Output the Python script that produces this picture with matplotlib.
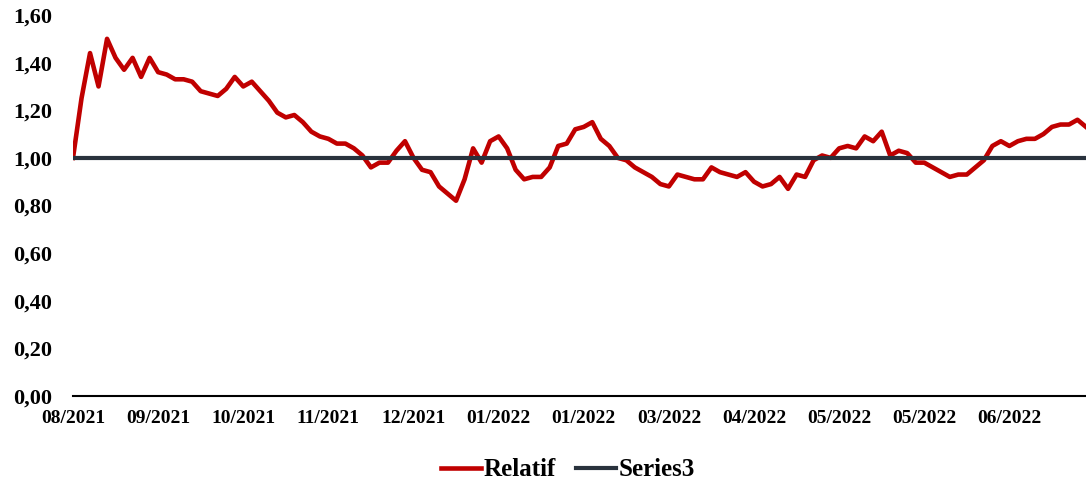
import numpy as np
import matplotlib
matplotlib.use('Agg')
from matplotlib import pyplot as plt
from matplotlib.ticker import FuncFormatter, MultipleLocator

plt.rcParams['font.family'] = ['Liberation Serif', 'DejaVu Serif']
plt.rcParams['font.weight'] = 'bold'

# ----------------------------------
# data (one point every half month or so)
relatif = [
    1.00, 1.25, 1.44, 1.30, 1.50, 1.42, 1.37, 1.42, 1.34, 1.42,
    1.36, 1.35, 1.33, 1.33, 1.32, 1.28, 1.27, 1.26, 1.29, 1.34,
    1.30, 1.32, 1.28, 1.24, 1.19, 1.17, 1.18, 1.15, 1.11, 1.09,
    1.08, 1.06, 1.06, 1.04, 1.01, 0.96, 0.98, 0.98, 1.03, 1.07,
    1.00, 0.95, 0.94, 0.88, 0.85, 0.82, 0.91, 1.04, 0.98, 1.07,
    1.09, 1.04, 0.95, 0.91, 0.92, 0.92, 0.96, 1.05, 1.06, 1.12,
    1.13, 1.15, 1.08, 1.05, 1.00, 0.99, 0.96, 0.94, 0.92, 0.89,
    0.88, 0.93, 0.92, 0.91, 0.91, 0.96, 0.94, 0.93, 0.92, 0.94,
    0.90, 0.88, 0.89, 0.92, 0.87, 0.93, 0.92, 0.99, 1.01, 1.00,
    1.04, 1.05, 1.04, 1.09, 1.07, 1.11, 1.01, 1.03, 1.02, 0.98,
    0.98, 0.96, 0.94, 0.92, 0.93, 0.93, 0.96, 0.99, 1.05, 1.07,
    1.05, 1.07, 1.08, 1.08, 1.10, 1.13, 1.14, 1.14, 1.16, 1.13,
]
series3 = [1.0] * len(relatif)
month_labels = ['08/2021', '09/2021', '10/2021', '11/2021', '12/2021', '01/2022',
                '01/2022', '03/2022', '04/2022', '05/2022', '05/2022', '06/2022']

x = np.arange(len(relatif))

fig = plt.figure(figsize=(10.86, 4.88), dpi=100)
ax = fig.add_axes([73 / 1086, 92 / 488, 1 - 73 / 1086, (473 - 92) / 488])

ax.plot(x, relatif, color='#C00000', lw=3.3, label='Relatif', solid_joinstyle='round')
ax.plot(x, series3, color='#29323D', lw=3, label='Series3')

ax.set_xlim(0, len(relatif) - 1)
ax.set_ylim(0, 1.6)
ax.yaxis.set_major_locator(MultipleLocator(0.2))
ax.yaxis.set_major_formatter(FuncFormatter(lambda v, p: f'{v:.2f}'.replace('.', ',')))
ax.set_xticks(np.arange(0, len(month_labels) * 10, 10))
ax.set_xticklabels(month_labels)

ax.tick_params(axis='both', length=0)
ax.tick_params(axis='x', pad=10, labelsize=14)
ax.tick_params(axis='y', pad=15, labelsize=16)
for s in ['top', 'right', 'left']:
    ax.spines[s].set_visible(False)
ax.spines['bottom'].set_linewidth(1.5)
ax.spines['bottom'].set_color('black')

fig.legend(loc='center', bbox_to_anchor=(568 / 1086, 18 / 488), ncol=2, frameon=False,
           fontsize=18, handlelength=1.6, handletextpad=0.12, columnspacing=0.8)

fig.savefig('out.png', dpi=100)
